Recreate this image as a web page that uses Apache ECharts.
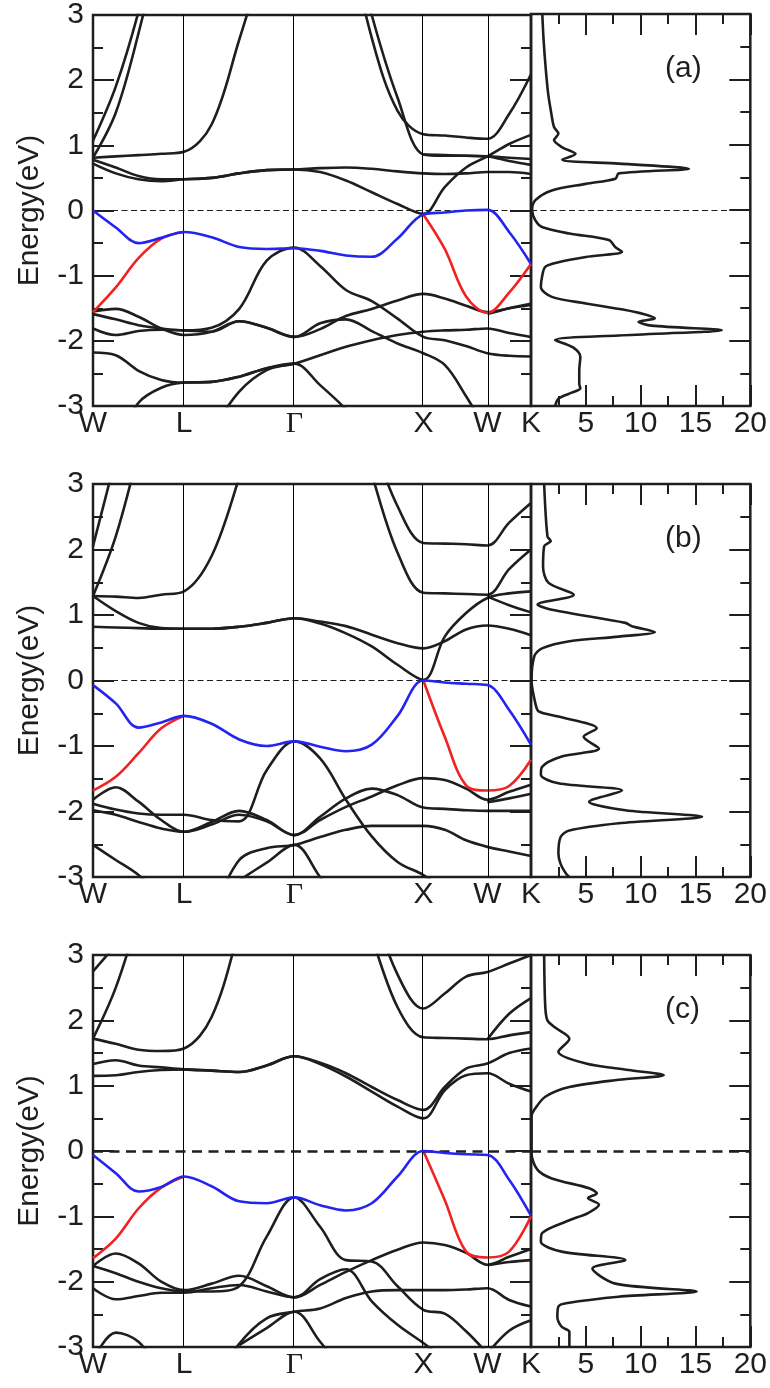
<!DOCTYPE html>
<html><head><meta charset="utf-8">
<script src="https://cdn.jsdelivr.net/npm/echarts@6/dist/echarts.min.js"></script>
<style>html,body{margin:0;padding:0;background:#fff}#c{width:770px;height:1388px}</style>
</head><body><div id="c"></div>
<script>
const _ = null;
// k-path sample positions (W-L-Γ-X-W-K)
const kGrid = [0, 0.178, 0.356, 0.534, 0.712, 0.928, 1.144, 1.359, 1.575, 1.777, 1.979, 2.181, 2.383, 2.585, 2.752, 2.919, 3.086, 3.256, 3.427];
const symK = [0, 0.712, 1.575, 2.585, 3.086, 3.427];
const symLabels = ['W', 'L', 'Γ', 'X', 'W', 'K'];
const panelTags = ['(a)', '(b)', '(c)'];

// ---------- panel (a) ----------
const blueA = [0.00, -0.26, -0.50, -0.42, -0.33, -0.41, -0.56, -0.59, -0.58, -0.62, -0.69, -0.71, -0.43, -0.06, -0.03, 0.00, 0.01, -0.33, -0.82];
const redA = [-1.56, -1.18, -0.73, -0.43, -0.33, _, _, _, _, _, _, _, _, -0.06, -0.59, -1.32, -1.57, -1.26, -0.82];
const blackA = [
  [1.07, 1.9, 3.05, 4.5, _, _, _, _, _, _, _, _, _, _, _, _, _, _, _],
  [0.81, 1.5, 2.72, 4.2, _, _, _, _, _, _, _, _, _, _, _, _, _, _, _],
  [0.81, 0.83, 0.85, 0.87, 0.90, 1.32, 2.62, 4.0, _, _, _, _, _, _, _, _, _, _, _],
  [0.78, 0.66, 0.53, 0.48, 0.48, 0.50, 0.57, 0.62, 0.63, 0.65, 0.66, 0.64, 0.60, 0.57, 0.56, 0.57, 0.59, 0.59, 0.56],
  [0.72, 0.57, 0.48, 0.45, 0.48, 0.50, 0.57, 0.62, 0.63, 0.59, 0.46, 0.28, 0.10, -0.05, 0.36, 0.66, 0.83, 1.02, 1.16],
  [_, _, _, _, _, _, _, _, _, _, 4.4, 2.65, 1.53, 1.17, 1.15, 1.12, 1.10, 1.48, 2.09],
  [_, _, _, _, _, _, _, _, _, _, 4.6, 3.0, 1.73, 0.86, 0.84, 0.84, 0.83, 0.76, 0.70],
  [_, _, _, _, _, _, _, _, _, _, _, _, _, 0.86, 0.85, 0.84, 0.83, 0.81, 0.79],
  [-1.59, -1.67, -1.76, -1.81, -1.84, -1.80, -1.51, -0.77, -0.57, -0.85, -1.22, -1.39, -1.66, -1.94, -1.99, -2.08, -2.19, -2.23, -2.24],
  [-1.55, -1.51, -1.63, -1.81, -1.91, -1.86, -1.70, -1.80, -1.94, -1.73, -1.67, -1.85, -2.04, -2.19, -2.37, -2.85, -3.4, _, _],
  [-1.81, -1.91, -1.85, -1.83, -1.84, -1.86, -1.70, -1.80, -1.94, -1.82, -1.62, -1.51, -1.38, -1.28, -1.35, -1.46, -1.56, -1.50, -1.45],
  [_, _, _, _, _, _, _, _, _, _, _, _, _, _, _, _, -1.59, -1.50, -1.43],
  [-2.18, -2.22, -2.46, -2.60, -2.64, -2.63, -2.55, -2.42, -2.35, -2.22, -2.09, -1.99, -1.91, -1.86, -1.84, -1.83, -1.81, -1.88, -1.94],
  [_, -3.6, -2.95, -2.72, -2.64, -2.63, -2.55, -2.42, -2.35, -2.68, -3.05, -3.5, _, _, _, _, _, _, _],
  [_, _, _, _, _, -3.4, -2.78, -2.45, -2.35, _, _, _, _, _, _, _, _, _, _]
];
const dosEA = [3.0, 2.6, 2.19, 1.8, 1.53, 1.27, 1.17, 1.07, 0.96, 0.86, 0.77, 0.71, 0.63, 0.56, 0.48, 0.40, 0.30, 0.15, 0.0, -0.16, -0.26, -0.36, -0.46, -0.57, -0.64, -0.72, -0.80, -0.87, -1.03, -1.18, -1.33, -1.43, -1.56, -1.66, -1.71, -1.77, -1.84, -1.92, -1.99, -2.10, -2.25, -2.45, -2.66, -2.73, -2.81, -2.89, -3.0];
const dosVA = [1.03, 1.15, 1.33, 1.55, 1.8, 2.1, 2.5, 2.1, 2.85, 4.06, 2.85, 8.0, 14.4, 8.0, 7.7, 5.0, 1.9, 0.4, 0.1, 0.4, 1.0, 3.5, 7.1, 7.7, 8.3, 5.0, 2.5, 1.3, 1.0, 0.9, 1.9, 5.0, 9.5, 11.3, 9.8, 11.0, 17.4, 8.0, 2.2, 3.8, 4.5, 4.4, 4.4, 4.5, 3.5, 2.5, 2.2];

// ---------- panel (b) ----------
const blueB = [-0.07, -0.35, -0.72, -0.64, -0.54, -0.66, -0.90, -1.00, -0.93, -1.01, -1.08, -0.98, -0.54, 0.00, -0.03, -0.05, -0.07, -0.45, -0.98];
const redB = [-1.68, -1.47, -1.11, -0.73, -0.54, _, _, _, _, _, _, _, _, 0.00, -0.86, -1.60, -1.68, -1.61, -1.21];
const blackB = [
  [2.05, 3.4, _, _, _, _, _, _, _, _, _, _, _, _, _, _, _, _, _],
  [1.29, 2.2, 3.5, _, _, _, _, _, _, _, _, _, _, _, _, _, _, _, _],
  [1.29, 1.28, 1.26, 1.31, 1.36, 1.9, 3.1, 4.5, _, _, _, _, _, _, _, _, _, _, _],
  [1.29, 1.06, 0.88, 0.80, 0.79, 0.79, 0.82, 0.88, 0.95, 0.90, 0.83, 0.70, 0.57, 0.49, 0.60, 0.78, 0.84, 0.79, 0.69],
  [0.82, 0.81, 0.80, 0.79, 0.79, 0.79, 0.82, 0.88, 0.95, 0.87, 0.72, 0.52, 0.24, 0.01, 0.67, 1.03, 1.26, 1.33, 1.36],
  [_, _, _, _, _, _, _, _, _, _, _, 3.7, 2.66, 2.10, 2.09, 2.08, 2.06, 2.41, 2.71],
  [_, _, _, _, _, _, _, _, _, _, 4.5, 3.15, 1.95, 1.34, 1.33, 1.32, 1.31, 1.70, 2.0],
  [_, _, _, _, _, _, _, _, _, _, _, _, _, _, _, _, 1.28, 1.15, 1.04],
  [-1.88, -1.97, -2.03, -2.05, -2.05, -2.13, -2.15, -1.37, -0.93, -1.19, -1.82, -2.38, -2.77, -2.97, -3.2, _, _, _, _],
  [-1.82, -1.63, -1.85, -2.13, -2.31, -2.16, -1.99, -2.13, -2.36, -2.08, -1.80, -1.65, -1.75, -1.94, -1.96, -1.98, -1.99, -1.99, -1.99],
  [-1.98, -2.05, -2.16, -2.26, -2.31, -2.20, -2.05, -2.15, -2.36, -2.13, -1.93, -1.77, -1.60, -1.49, -1.52, -1.65, -1.82, -1.70, -1.59],
  [-2.51, -2.74, -2.97, -3.3, _, _, _, _, _, _, _, _, _, _, _, _, _, _, _],
  [_, _, _, _, _, _, _, _, _, _, _, _, _, _, _, _, -1.86, -1.80, -1.73],
  [_, _, _, _, _, -3.6, -2.74, -2.56, -2.51, -2.39, -2.28, -2.22, -2.22, -2.22, -2.28, -2.44, -2.54, -2.61, -2.68],
  [_, _, _, _, _, _, -3.05, -2.78, -2.51, -3.0, -3.5, _, _, _, _, _, _, _, _]
];
const dosEB = [3.0, 2.2, 2.13, 2.05, 1.74, 1.49, 1.31, 1.16, 1.08, 0.88, 0.83, 0.74, 0.67, 0.60, 0.49, 0.37, 0.0, -0.35, -0.47, -0.55, -0.73, -0.86, -1.04, -1.16, -1.32, -1.44, -1.57, -1.68, -1.85, -1.98, -2.08, -2.18, -2.29, -2.39, -2.64, -2.80, -2.95, -3.0];
const dosVB = [1.2, 1.5, 1.8, 1.2, 1.1, 1.6, 3.9, 0.6, 1.9, 8.6, 9.2, 11.3, 8.0, 3.5, 1.0, 0.3, 0.05, 0.4, 0.7, 2.5, 6.0, 4.8, 6.2, 2.8, 1.0, 0.9, 2.5, 8.3, 5.3, 8.6, 15.6, 8.0, 3.5, 2.7, 2.5, 2.7, 3.2, 3.5];

// ---------- panel (c) ----------
const blueC = [-0.06, -0.34, -0.62, -0.55, -0.39, -0.54, -0.77, -0.80, -0.71, -0.83, -0.91, -0.80, -0.39, 0.00, -0.03, -0.05, -0.06, -0.44, -0.99];
const redC = [-1.64, -1.34, -0.88, -0.56, -0.39, _, _, _, _, _, _, _, _, 0.00, -0.75, -1.54, -1.63, -1.54, -1.00];
const blackC = [
  [2.75, 3.15, _, _, _, _, _, _, _, _, _, _, _, _, _, _, _, _, _],
  [1.72, 2.5, 3.6, _, _, _, _, _, _, _, _, _, _, _, _, _, _, _, _],
  [1.72, 1.64, 1.55, 1.53, 1.57, 2.05, 3.4, 5.0, _, _, _, _, _, _, _, _, _, _, _],
  [1.33, 1.39, 1.31, 1.28, 1.25, 1.23, 1.21, 1.31, 1.45, 1.35, 1.19, 0.98, 0.78, 0.63, 0.98, 1.26, 1.34, 1.50, 1.57],
  [1.15, 1.16, 1.21, 1.24, 1.25, 1.23, 1.21, 1.31, 1.45, 1.33, 1.14, 0.91, 0.68, 0.50, 0.93, 1.16, 1.19, 1.03, 0.91],
  [_, _, _, _, _, _, _, _, _, _, _, 3.8, 2.7, 2.18, 2.41, 2.67, 2.74, 2.87, 3.0],
  [_, _, _, _, _, _, _, _, _, _, _, 3.3, 2.2, 1.74, 1.73, 1.72, 1.71, 1.77, 1.82],
  [_, _, _, _, _, _, _, _, _, _, _, _, _, _, _, _, 1.71, 2.1, 2.34],
  [-1.76, -1.87, -2.00, -2.10, -2.15, -2.15, -2.07, -1.31, -0.71, -1.16, -1.67, -1.69, -2.07, -2.43, -2.49, -2.76, -3.1, _, _],
  [-1.76, -1.57, -1.72, -2.00, -2.13, -2.03, -1.91, -2.07, -2.24, -1.96, -1.81, -2.30, -2.66, -2.94, -3.2, _, _, _, _],
  [-2.10, -2.27, -2.22, -2.17, -2.17, -2.10, -2.05, -2.15, -2.24, -2.05, -1.85, -1.67, -1.51, -1.40, -1.44, -1.56, -1.74, -1.62, -1.50],
  [-3.2, -2.78, -2.92, -3.4, _, _, _, _, _, _, _, _, _, _, _, _, _, _, _],
  [_, _, _, _, _, _, _, _, _, _, _, _, _, _, _, _, -1.75, -1.70, -1.67],
  [_, _, _, _, _, -3.6, -2.95, -2.56, -2.46, -2.41, -2.25, -2.15, -2.13, -2.13, -2.13, -2.12, -2.10, -2.28, -2.38],
  [_, _, _, _, _, _, -2.97, -2.71, -2.46, -2.92, -3.4, _, _, _, _, _, _, _, _],
  [_, _, _, _, _, _, _, _, _, _, _, _, _, _, _, _, -3.1, -2.75, -2.59]
];
const dosEC = [3.0, 2.21, 2.0, 1.89, 1.72, 1.52, 1.34, 1.24, 1.16, 1.09, 0.98, 0.83, 0.63, 0.53, -0.04, -0.29, -0.42, -0.57, -0.65, -0.72, -0.82, -0.95, -1.06, -1.26, -1.39, -1.54, -1.67, -1.80, -2.03, -2.15, -2.23, -2.33, -2.38, -2.54, -2.69, -2.77, -3.0];
const dosVC = [1.2, 1.3, 1.5, 2.2, 3.5, 2.5, 5.0, 8.9, 12.1, 8.0, 3.5, 1.3, 0.3, 0.05, 0.05, 0.6, 1.9, 5.3, 6.0, 5.2, 6.2, 5.2, 3.5, 1.0, 0.9, 2.8, 8.6, 5.6, 7.7, 15.1, 8.0, 3.2, 2.5, 2.4, 2.8, 3.5, 3.5];

// ---------- layout / style ----------
const FONT = '"Liberation Sans Narrow", "Liberation Sans", Arial, sans-serif';
const INK = '#1e1e1e';
const BLUE = '#2424f2';
const RED = '#f22222';
const panels = [
  { top: 14, h: 392, blue: blueA, red: redA, black: blackA, dE: dosEA, dV: dosVA, dash: { w: 1.2, t: [6, 3.5] } },
  { top: 484, h: 393, blue: blueB, red: redB, black: blackB, dE: dosEB, dV: dosVB, dash: { w: 1.2, t: [6, 3.5] } },
  { top: 955, h: 392, blue: blueC, red: redC, black: blackC, dE: dosEC, dV: dosVC, dash: { w: 2.6, t: [10, 6.5] } }
];

const grids = [], xAxes = [], yAxes = [], series = [], graphics = [];
const tickStyle = { color: INK, width: 2 };
const noLine = { show: false, onZero: false };
const toPts = row => kGrid.map((k, i) => [k, row[i] == null ? '-' : row[i]]);

panels.forEach((P, p) => {
  grids.push({ left: 93, top: P.top, width: 438, height: P.h, show: true, borderColor: INK, borderWidth: 2.5, backgroundColor: 'transparent' });
  grids.push({ left: 531, top: P.top, width: 221, height: P.h, show: true, borderColor: INK, borderWidth: 2.5, backgroundColor: 'transparent' });
  // band x
  xAxes.push({
    gridIndex: 2 * p, type: 'value', min: 0, max: 3.427, position: 'bottom',
    axisLine: noLine, splitLine: { show: false }, axisTick: { show: false },
    axisLabel: {
      customValues: symK, margin: 3, fontSize: 30, color: INK, fontFamily: FONT,
      formatter: v => { let i = symK.findIndex(s => Math.abs(s - v) < 1e-6); if (i < 0) return ''; return symLabels[i] === 'Γ' ? '{g|Γ}' : symLabels[i]; },
      rich: { g: { fontFamily: '"Liberation Serif", serif', fontSize: 30, color: INK } }
    }
  });
  // dos x bottom
  xAxes.push({
    gridIndex: 2 * p + 1, type: 'value', min: 0, max: 20, interval: 5, position: 'bottom',
    axisLine: noLine, splitLine: { show: false },
    axisTick: { show: true, inside: true, length: 21, lineStyle: tickStyle },
    minorTick: { show: true, splitNumber: 2, length: 10, lineStyle: tickStyle },
    axisLabel: { margin: 3, fontSize: 30, color: INK, fontFamily: FONT, formatter: v => v === 0 ? '' : String(v) }
  });
  // dos x top
  xAxes.push({
    gridIndex: 2 * p + 1, type: 'value', min: 0, max: 20, interval: 5, position: 'top',
    axisLine: noLine, splitLine: { show: false },
    axisTick: { show: true, inside: true, length: 21, lineStyle: tickStyle },
    minorTick: { show: true, splitNumber: 2, length: 10, lineStyle: tickStyle },
    axisLabel: { show: false }
  });
  // band y left
  yAxes.push({
    gridIndex: 2 * p, type: 'value', min: -3, max: 3, interval: 1, position: 'left',
    axisLine: noLine, splitLine: { show: false },
    axisTick: { show: true, inside: true, length: 21, lineStyle: tickStyle },
    minorTick: { show: true, splitNumber: 2, length: 10, lineStyle: tickStyle },
    axisLabel: { margin: 9, fontSize: 30, color: INK, fontFamily: FONT },
    name: 'Energy(eV)', nameLocation: 'middle', nameGap: 48, nameRotate: 90,
    nameTextStyle: { fontSize: 30, color: INK, fontFamily: FONT }
  });
  // band y right
  yAxes.push({
    gridIndex: 2 * p, type: 'value', min: -3, max: 3, interval: 1, position: 'right',
    axisLine: noLine, splitLine: { show: false },
    axisTick: { show: true, inside: true, length: 21, lineStyle: tickStyle },
    minorTick: { show: true, splitNumber: 2, length: 10, lineStyle: tickStyle },
    axisLabel: { show: false }
  });
  // dos y right
  yAxes.push({
    gridIndex: 2 * p + 1, type: 'value', min: -3, max: 3, interval: 1, position: 'right',
    axisLine: noLine, splitLine: { show: false },
    axisTick: { show: true, inside: true, length: 21, lineStyle: tickStyle },
    minorTick: { show: true, splitNumber: 2, length: 10, lineStyle: tickStyle },
    axisLabel: { show: false }
  });
  const xi = 3 * p, yi = 3 * p;
  const dashStyle = { color: INK, width: P.dash.w, type: P.dash.t };
  P.black.forEach((row, j) => {
    const s = {
      type: 'line', xAxisIndex: xi, yAxisIndex: yi, data: toPts(row), smooth: 0.35,
      showSymbol: false, symbol: 'none', clip: true, silent: true, z: 3,
      lineStyle: { color: INK, width: 2.6 }
    };
    if (j === 0) {
      s.markLine = {
        silent: true, symbol: ['none', 'none'], label: { show: false }, animation: false,
        data: [
          { xAxis: symK[1], lineStyle: { color: '#000', width: 1, type: 'solid' } },
          { xAxis: symK[2], lineStyle: { color: '#000', width: 1, type: 'solid' } },
          { xAxis: symK[3], lineStyle: { color: '#000', width: 1, type: 'solid' } },
          { xAxis: symK[4], lineStyle: { color: '#000', width: 1, type: 'solid' } },
          { yAxis: 0, lineStyle: dashStyle }
        ]
      };
    }
    series.push(s);
  });
  series.push({ type: 'line', xAxisIndex: xi, yAxisIndex: yi, data: toPts(P.red), smooth: 0.35, showSymbol: false, symbol: 'none', silent: true, z: 4, lineStyle: { color: RED, width: 2.6 } });
  series.push({ type: 'line', xAxisIndex: xi, yAxisIndex: yi, data: toPts(P.blue), smooth: 0.35, showSymbol: false, symbol: 'none', silent: true, z: 5, lineStyle: { color: BLUE, width: 2.6 } });
  series.push({
    type: 'line', xAxisIndex: 3 * p + 1, yAxisIndex: 3 * p + 2,
    data: P.dE.map((e, i) => [P.dV[i], e]), smooth: 0.3, showSymbol: false, symbol: 'none', silent: true, z: 3,
    lineStyle: { color: INK, width: 2.6 },
    markLine: { silent: true, symbol: ['none', 'none'], label: { show: false }, animation: false, data: [{ yAxis: 0, lineStyle: dashStyle }] }
  });
  graphics.push({
    type: 'text', left: 665, top: P.top + 40,
    style: { text: panelTags[p], fontSize: 30, fill: INK, fontFamily: FONT }
  });
});

const chart = echarts.init(document.getElementById('c'), null, { renderer: 'canvas' });
chart.setOption({
  animation: false,
  backgroundColor: '#ffffff',
  textStyle: { fontFamily: FONT },
  grid: grids, xAxis: xAxes, yAxis: yAxes, series: series, graphic: graphics
});
</script></body></html>
